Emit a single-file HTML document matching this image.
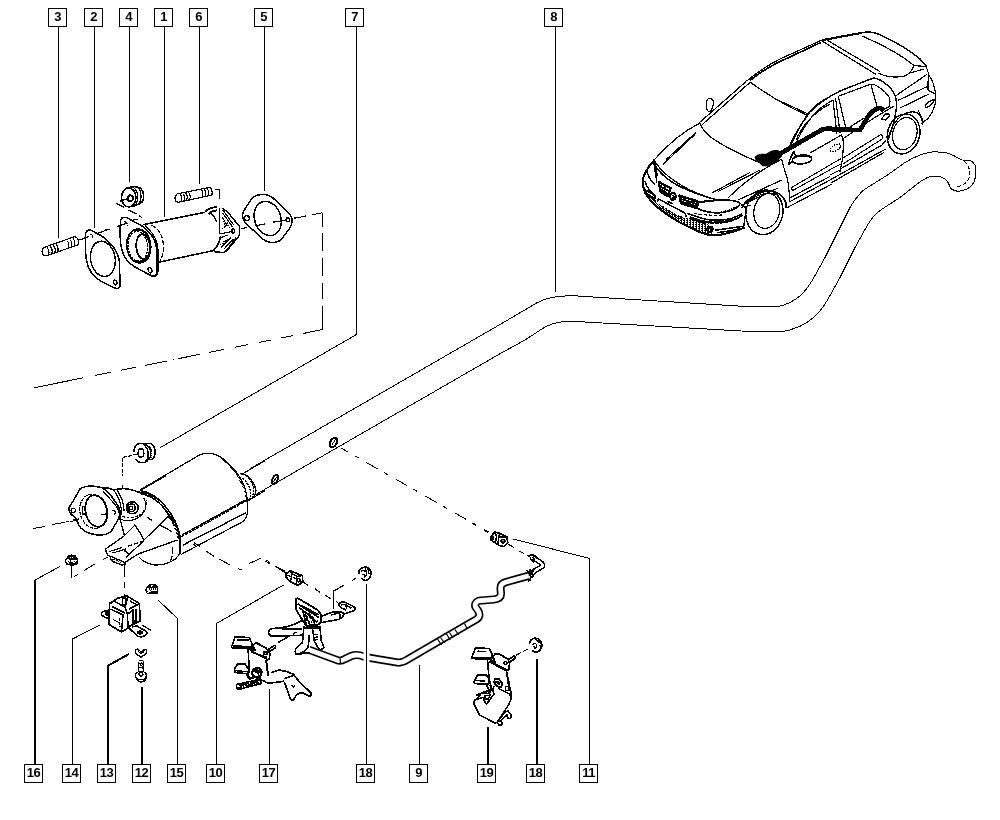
<!DOCTYPE html>
<html><head><meta charset="utf-8"><title>Exhaust diagram</title>
<style>
html,body{margin:0;padding:0;background:#fff;}
body{width:1000px;height:820px;overflow:hidden;position:relative;font-family:"Liberation Sans",sans-serif;}
svg{position:absolute;left:0;top:0;}
.lb{position:absolute;width:17px;height:17px;border:1px solid #000;background:#fff;font-weight:bold;font-size:13px;line-height:15px;text-align:center;color:#000;letter-spacing:-0.5px;will-change:transform;}
</style></head><body>
<svg width="1000" height="820" viewBox="0 0 1000 820" fill="none" stroke="#000" stroke-width="1" stroke-linecap="butt" stroke-linejoin="round" shape-rendering="crispEdges">
<!-- 01_defs.svg -->
<defs>
<pattern id="dots" width="16" height="16" patternUnits="userSpaceOnUse"><rect x="0" y="0" width="8" height="8" fill="#000" stroke="none"/><rect x="8" y="8" width="8" height="8" fill="#000" stroke="none"/></pattern>
<pattern id="dots2" width="24" height="16" patternUnits="userSpaceOnUse"><rect x="0" y="0" width="16" height="8" fill="#000" stroke="none"/><rect x="8" y="8" width="8" height="8" fill="#000" stroke="none"/></pattern>
</defs>

<!-- 05_dashbox.svg -->
<g id="dashbox">
<path d="M293.6 218.3L306.4 216 M314.4 214.4L322.4 212.8"/>
<path d="M322.5 212.8V329.6" stroke-dasharray="14 6 18 7 18 7 16 7 24 0"/>
<path d="M322.4 329.6L32.8 388" stroke-dasharray="20 10 12 10 13 11 13 11 16 9 22 4 1 7 22 9 16 10 16 12 30 0"/>
</g>

<!-- 10_pipe.svg -->
<g id="pipe">
<path d="M250 468.75L500 324.5L537.5 302.5C545 299 550 297.5 555 297C562 295.8 575 295.6 585 296.5L750 306.75L775 307C781 306.5 785 305 790 302.5C795 300 799 297 802.5 293.75C806 290 809 286 812.5 280L825 257.5L837.5 232.5L850 207.5C853 202 856 198 860 193.75C862 191 865 189 867.5 187.5L887.5 175L905 162.5C910 159.5 915 157 920 155C924 153.5 928 152.5 932.5 152C937 151.8 941 152 945 152.5C949 153.3 952 154.5 955 156.25C958 158 960 159 962.5 160.5"/>
<path d="M255 495L500 353.75L525 340L545 327C549 325 553 323.5 557.5 322.5C562 321.6 566 321.3 570 321.25C575 321.3 580 321.6 585 322L750 331.5L780 332C788 331 794 329 800 326.25C806 323.5 811 320 815 316.25C820 311.5 824 306 827.5 300L840 277.5L855 247.5L867.5 225C870 221 872 218 875 215C877 212.5 880 210.5 882.5 208.75L900 197.5L917.5 183.75C921 181 924 179 927.5 177.5C931 176.3 934 176 937.5 176.25C940 176.6 943 177.5 945 178.75C947 180 948 182 948.75 183.75"/>
<path d="M962.5 160.5L970 160.5C972.5 161.5 974 163 975 165C976 167.5 976.3 170 976 172.5C975.8 176 975 179.5 973.75 182.5C972 185.5 970 187.5 967.5 188.75C964.5 190.5 961 191.3 957.5 191.25C955 191 953 190 951 188.75C950 187.5 949.2 186 948.75 183.75"/>
<path stroke-dasharray="4 2" d="M964 161C968 165 970 169 970 174C969.5 178 968 181 965 183.5C962 185.5 959 186.5 956 187"/>
</g>

<!-- 11_pipeholes.svg -->
<g id="holes">
<ellipse cx="333.5" cy="442.5" rx="3.2" ry="5.2" transform="rotate(28 333.5 442.5)" stroke-width="2"/>
<path d="M331.5 445.5L335.5 439.5"/>
<ellipse cx="275" cy="479.5" rx="2.6" ry="4.6" transform="rotate(28 275 479.5)" stroke-width="2"/>
<path d="M273.5 482L276.5 477"/>
<path d="M341 448L488.4 532" stroke-dasharray="8 7.5 4.5 9 13 7.5 4.5 9 13 7.5 4.5 9 13 7.5 4.5 9 13 7.5 4.5 9 13 7.5 4.5 9"/>
<path d="M33 528.4L45 526.6 M52.5 524.5L64.5 522.4 M70.5 521.5L78 520"/>
</g>

<!-- 20_topleft_a.svg -->
<g id="tl_a" transform="translate(30,210) scale(0.125)" stroke-width="9.6">
<!-- stud 3 -->
<path d="M110 300L355 214C380 212 392 240 386 278L132 366C100 370 84 330 110 300Z"/>
<path d="M135 300C150 315 155 340 148 360 M160 292C175 305 180 330 174 350 M185 284C200 297 205 322 198 342 M208 276C222 290 227 315 222 334 M295 246C310 260 313 282 308 300 M318 238C333 250 337 275 331 292 M342 228C357 242 361 265 355 284"/>
<!-- gasket 2 -->
<path stroke-width="12" d="M445 190C450 170 465 158 480 158C495 160 505 168 520 180L560 200C600 225 640 260 670 300C695 335 712 380 716 420L720 600C720 618 712 628 695 628C685 628 675 622 660 615L560 565C530 545 505 525 490 500C470 470 458 440 452 400C446 370 444 340 444 300Z"/>
<ellipse cx="583" cy="391" rx="98" ry="142" transform="rotate(-10 583 391)" stroke-width="12"/>
<ellipse cx="682" cy="580" rx="13" ry="20" transform="rotate(-20 682 580)" stroke-width="10.8"/>
<path d="M478 196C492 194 500 204 497 222" stroke-dasharray="14 8"/>
<!-- centre line -->
<path d="M395 240L472 212 M540 186L640 152 M700 130L772 108"/>
</g>

<!-- 21_topleft_b.svg -->
<g id="tl_b" transform="translate(105,175) scale(0.125)" stroke-width="9.6">
<!-- bushing 4 -->
<ellipse cx="190" cy="180" rx="58" ry="76" stroke-width="12"/>
<path stroke-width="12" d="M165 108C200 95 250 92 275 100C300 115 312 150 308 190C302 215 290 228 270 232L215 255"/>
<path d="M235 108C265 130 272 200 240 245 M262 102C292 125 298 195 270 232"/>
<ellipse cx="203" cy="186" rx="20" ry="24" stroke-width="14.4"/>
<path d="M185 188L120 210 M90 228L150 258 M190 280L250 312 M270 325L295 340" />
<!-- flange left of part 1 -->
<path stroke-width="12" d="M125 365C128 348 140 338 160 338C175 340 185 345 200 355L300 410C340 440 375 480 395 520C408 550 412 575 413 600L415 770C415 795 405 810 390 810C378 810 368 806 355 798L230 730C195 705 170 680 155 650C140 620 130 590 126 555C122 520 120 480 120 440Z"/>
<path d="M320 405C360 440 395 485 412 530C420 555 423 580 424 600L425 770C424 790 418 802 408 808"/>
<ellipse cx="270" cy="568" rx="96" ry="136" transform="rotate(-6 270 568)" stroke-width="12"/>
<ellipse cx="262" cy="570" rx="78" ry="118" transform="rotate(-6 262 570)" stroke-dasharray="18 8"/>
<ellipse cx="305" cy="572" rx="55" ry="100" transform="rotate(-4 305 572)" stroke-width="14.4"/>
<path stroke-width="16.8" d="M232 445C270 430 310 440 340 480 M250 690C290 700 330 690 352 650"/>
<ellipse cx="360" cy="762" rx="14" ry="22" transform="rotate(-20 360 762)" stroke-width="10.8"/>
<path d="M150 375C172 372 182 385 178 410" stroke-dasharray="14 8"/>
<path d="M0 440L40 434 M95 412L150 395 M200 368L260 352"/>
<!-- tube -->
<path stroke-width="12" d="M305 398L800 298 M420 700L880 602"/>
<path stroke-dasharray="40 12" d="M370 402C420 420 455 470 465 540C472 600 462 650 440 690"/>
<!-- stud 6 -->
<path d="M575 152L830 100C852 100 862 125 856 160L590 218C562 222 548 180 575 152Z"/>
<path d="M600 152C612 168 615 192 608 212 M622 148C634 162 638 188 631 206 M645 143C657 158 660 182 654 202 M668 138C680 152 684 178 677 196 M770 116C782 130 785 155 779 174 M792 112C804 126 808 150 802 169 M815 106C827 120 831 146 825 164"/>
<path d="M880 118L915 118V190 M915 262V470" stroke-dasharray="70 70 400"/>
</g>

<!-- 22_topleft_c.svg -->
<g id="tl_c" transform="translate(190,185) scale(0.125)" stroke-width="9.6">
<!-- gasket 5 -->
<path stroke-width="12" d="M580 75C610 75 640 85 665 105L790 225C810 245 820 270 815 300C812 320 805 335 795 350L735 430C715 452 690 460 660 460C630 460 605 450 580 430L450 310C430 290 420 265 420 240C422 225 428 210 438 195L490 115C510 88 545 75 580 75Z"/>
<ellipse cx="622" cy="268" rx="105" ry="140" transform="rotate(-18 622 268)" stroke-width="12"/>
<circle cx="455" cy="265" r="20" stroke-width="10.8"/>
<circle cx="783" cy="278" r="15" stroke-width="10.8"/>
<path d="M405 350L460 340 M520 326L600 312 M660 298L760 283 M830 266L870 258 M900 252L930 247 M975 237L1000 237"/>
<!-- right flange of part 1 -->
<path stroke-width="12" d="M255 185L300 215L395 330L398 400L300 520L270 540L205 536L190 520"/>
<path stroke-width="14.4" d="M120 215C145 190 180 178 215 176 M150 232C170 212 190 204 215 202 M190 520C215 500 235 460 245 410"/>
<path d="M160 225C185 240 205 265 212 295 M262 200L350 320 M262 225L340 335 M260 260L300 330 M240 390L340 372 M250 420L300 400 M330 420L250 500 M350 430L270 515 M370 420L290 525"/>
<path stroke-dasharray="10 8" d="M270 290L290 340 M300 300L320 350 M255 350L285 330 M265 470L330 420 M280 500L360 430 M240 480L300 430"/>
<ellipse cx="345" cy="370" rx="10" ry="18" stroke-width="10.8"/>
<path d="M235 35V110 M235 180V390" />
<path d="M200 35L235 35"/>
</g>

<!-- 30_car_front.svg -->
<g id="car_front" transform="translate(630,80) scale(0.2)" stroke-width="6">
<!-- a pillar / roof left -->
<path d="M345 215L580 8 M360 224L600 12"/>
<!-- windshield -->
<path d="M348 215C360 245 380 268 410 290C460 325 540 368 640 410 M600 10C690 75 790 135 885 175C860 215 830 270 800 335"/>
<path d="M885 175C920 130 960 100 1000 85 M830 300C860 230 920 160 1000 120"/>
<!-- left mirror -->
<path d="M385 100C392 90 408 90 415 102C420 118 416 138 400 160C388 160 380 145 382 125Z"/>
<!-- hood -->
<path d="M345 218C280 250 200 310 120 400C125 440 128 470 135 500 M120 400C150 450 200 500 300 550C350 572 400 590 440 600"/>
<path d="M165 422L325 272 M180 398L330 262"/>
<path d="M640 410C660 410 700 405 740 400 M410 565L600 462 M440 558L650 450 M490 590C560 520 650 450 760 395"/>
<path d="M540 600L760 500 M560 625L740 540"/>
<!-- front wheel -->
<path stroke-width="8.4" d="M560 640C575 605 620 570 680 555C730 550 765 575 778 610L782 640"/>
<path d="M600 600C640 570 690 560 730 572"/>
<ellipse cx="672" cy="662" rx="92" ry="112" transform="rotate(12 672 662)" stroke-width="7.2"/>
<ellipse cx="684" cy="655" rx="64" ry="88" transform="rotate(12 684 655)"/>
<!-- door/fender -->
<path d="M760 400C768 440 780 470 788 500C795 540 797 580 800 612"/>
<path d="M782 640L1010 520 M800 608L1000 500 M795 592L1000 482"/>
<path stroke-width="5.4" d="M812 535L1000 425 M815 552L1000 449 M812 535C806 540 808 550 815 552"/>

<!-- right mirror -->
<ellipse cx="860" cy="396" rx="50" ry="22" transform="rotate(-5 860 396)"/>
<path d="M790 425L812 365L830 375 M790 425L815 405"/>
<!-- harness -->
<path fill="#000" stroke-width="4.8" d="M625 385C640 370 660 370 680 372C695 360 715 350 735 352C750 355 760 365 758 380C750 395 735 405 720 415C700 428 680 432 660 428C650 415 640 405 630 400Z"/>
<path stroke-width="22.8" stroke-linecap="round" d="M745 372L960 248L1000 240"/>
</g>

<!-- 31_car_rear.svg -->
<g id="car_rear" transform="translate(780,20) scale(0.2)" stroke-width="6">
<!-- roof -->
<path d="M-168 306C-100 250 -50 220 0 195L210 100"/>
<path stroke-width="8.4" d="M-150 302C-100 262 -50 232 0 208L205 112"/>
<path stroke-width="10.8" d="M215 100L400 66"/>
<path stroke-width="7.2" d="M210 100L430 60C450 58 470 62 490 70C560 100 640 145 700 195L730 230"/>
<path d="M410 80C480 110 560 150 620 190C645 208 660 220 670 228C662 250 650 265 630 278C600 288 560 286 530 280C515 276 500 270 490 265"/>
<path d="M210 105L480 272 M235 100L500 258"/>
<path d="M670 228L728 232 M650 265L720 245"/>
<!-- trunk / rear -->
<path d="M730 230C735 245 740 260 745 275C760 300 772 330 776 355C782 385 778 415 770 440C762 462 752 478 740 492L705 520"/>
<path d="M745 275C740 300 738 330 740 350L776 370"/>
<path d="M580 378L735 272 M590 402L742 330 M600 440L745 370"/>
<path d="M725 430C735 415 755 400 772 398C768 412 750 430 730 440Z"/>
<path d="M690 450L715 500"/>
<!-- side windows -->
<path stroke-width="7.2" d="M40 650C55 610 90 540 150 460C190 420 240 385 300 355L440 300C452 296 462 292 472 290C500 295 530 315 560 350C580 375 586 400 582 440C575 490 560 550 540 600"/>
<path d="M70 640C85 600 120 530 175 465C200 440 230 420 262 402 M290 382L450 322C462 320 472 322 482 328C510 345 535 368 545 385C552 400 550 420 545 435L520 445"/>
<path d="M265 400L285 572 M278 392L300 565 M292 384L330 545"/>
<path d="M455 325L485 432"/>
<!-- windshield R -->
<path d="M0 405L140 470"/>
<!-- door & belt lines -->
<path d="M150 665L307 575 M317 592L410 530L470 490L570 430 M350 535L420 490"/>
<path d="M307 572C315 590 318 610 317 630L312 700L300 760"/>
<path stroke-dasharray="8 5" d="M250 645L270 625L300 620L305 635L280 655L255 657Z"/>
<path d="M507 497L525 470L545 470L547 482L527 500Z"/>
<path stroke-width="5.4" d="M315 690L505 572C512 578 514 588 510 595L315 720"/>
<path stroke-width="5.4" d="M250 724L307 692 M250 748L305 720"/>
<path d="M302 745L510 625L530 600 M250 775L300 750 M250 800L510 655L530 645 M255 815L520 662"/>
<!-- rear wheel -->
<path d="M540 600C545 560 570 500 620 470C650 455 680 458 700 470"/>
<ellipse cx="618" cy="570" rx="80" ry="101" transform="rotate(16 618 570)" stroke-width="7.2"/>
<ellipse cx="624" cy="568" rx="60" ry="82" transform="rotate(16 624 568)"/>
<path d="M690 465C705 480 712 500 712 525"/>
<!-- mirror right -->
<ellipse cx="110" cy="700" rx="50" ry="20" transform="rotate(-5 110 700)"/>
<path d="M40 722L70 655L82 690 M40 722L65 702"/>
<!-- harness -->
<path stroke-width="22.8" stroke-linejoin="round" d="M0 668L215 545L400 550L440 482C460 455 480 442 500 440L520 452"/>
</g>

<!-- 32_car_nose.svg -->
<g id="car_nose" transform="translate(635,140) scale(0.125)" stroke-width="9.6">
<!-- outer nose outline (thick) -->
<path stroke-width="16.8" d="M155 160C130 185 110 210 95 240C75 270 62 300 62 330C62 360 68 390 80 420C95 450 120 480 160 520C220 575 290 620 360 660C420 690 480 720 540 745C580 760 620 765 660 762C720 755 800 730 880 700"/>
<path stroke-width="12" d="M95 240C100 280 120 320 160 360 M80 330C90 370 110 400 150 430 M70 380C85 420 120 460 170 490"/>
<!-- hood front edge -->
<path stroke-width="12" d="M155 160C160 200 165 240 180 290 M165 210C210 280 300 350 420 400C500 435 580 460 650 478"/>
<path d="M150 185L175 340"/>
<!-- grilles -->
<path stroke-width="19.2" d="M190 335L285 385L262 450L205 415Z M355 445L498 490L490 545L368 505Z"/>
<path stroke-width="14.4" d="M215 350L200 400 M245 365L228 425 M200 370L275 410 M205 395L265 432 M395 460L385 510 M430 470L420 522 M465 480L455 535 M362 470L495 512 M365 490L492 530"/>
<path stroke-width="14.4" d="M305 420C320 425 330 440 328 460C322 475 310 482 295 478C282 470 278 455 282 440C288 428 295 422 305 420Z"/>
<path stroke-width="12" d="M300 440L315 455L300 468"/>
<!-- bumper band -->
<path stroke-width="12" d="M185 470L400 585L412 620 M185 470L180 500 M260 490L300 510"/>
<path stroke-width="14.4" d="M90 400L160 445L158 470L95 430"/>
<path fill="url(#dots)" stroke="none" d="M110 450C170 505 260 565 400 625L405 655C300 610 200 550 130 490Z"/>
<path fill="url(#dots2)" stroke="none" d="M215 520C280 570 340 605 405 630L440 615L565 662L630 712L608 760C540 740 470 712 405 680C330 640 260 595 200 550Z"/>
<path stroke-width="21.6" d="M445 625L560 665"/>
<circle cx="600" cy="715" r="22" stroke-width="14.4"/>
<path stroke-width="12" d="M590 705C600 700 612 708 610 722"/>
<!-- headlight -->
<path stroke-width="13.2" d="M505 498C560 488 620 482 700 480C760 480 810 486 835 500C845 512 835 528 810 545C770 565 720 580 660 584C600 582 550 570 500 548"/>
<path stroke-width="12" d="M520 498L640 485 M500 548L505 498"/>
<path stroke-width="14.4" stroke-dasharray="10 6" d="M690 578C740 570 790 552 825 525"/>
<!-- under-headlight lines -->
<path stroke-width="12" d="M420 588C480 610 540 630 600 640C660 645 720 640 770 628C810 615 840 600 855 590"/>
<path stroke-width="14.4" d="M440 618C500 640 560 655 620 660C680 660 740 652 790 638C820 628 845 615 855 600"/>
<path stroke-dasharray="30 10" d="M470 585C540 600 620 605 700 600 M560 660C640 675 720 665 800 640"/>
<path stroke-width="12" d="M640 722L870 690 M660 740C720 735 800 720 880 700"/>
<path stroke-width="12" d="M850 520L880 535L925 520 M880 535L890 560L880 620L870 690"/>
</g>

<!-- 40_cat_a.svg -->
<g id="cat_a" transform="translate(60,475) scale(0.125)" stroke-width="9.6">
<!-- inlet flange -->
<path stroke-width="12" d="M72 262L110 200L160 112C185 95 220 88 255 88C285 90 310 95 335 102C365 120 390 140 405 160L460 240C475 265 482 285 480 305C478 325 470 345 460 365L410 450C390 470 350 482 300 480C260 476 225 465 195 448C172 432 158 415 150 398L130 352L88 312C75 298 68 282 72 262Z"/>
<ellipse cx="268" cy="290" rx="108" ry="138" transform="rotate(-14 268 290)" stroke-dasharray="30 8"/>
<ellipse cx="290" cy="288" rx="86" ry="128" transform="rotate(-12 290 288)" stroke-width="14.4"/>
<circle cx="106" cy="283" r="18"/>
<path d="M415 285C430 275 445 285 442 305C440 312 435 316 428 316"/>
<path d="M180 255H205V312H180Z M330 316L372 312"/>
<path d="M345 130L440 235C460 262 470 285 472 305 M50 372L75 370 M105 358L150 352"/>
<!-- neck -->
<path stroke-width="12" d="M335 102C370 100 400 105 430 118C460 112 500 106 540 112C580 118 610 128 630 138"/>
<path d="M430 120C465 170 490 230 492 290C490 315 485 335 478 350 M455 118C490 170 512 230 512 290"/>
<path d="M478 350C500 362 540 368 580 360C620 350 660 320 680 280C690 250 688 215 670 185"/>
<!-- sensor boss -->
<circle cx="578" cy="262" r="48" stroke-width="12"/>
<circle cx="572" cy="262" r="30" stroke-width="12"/>
<circle cx="568" cy="262" r="14"/>
<path d="M610 225C625 245 625 280 610 300" />
<path stroke-dasharray="24 10" d="M500 330C540 350 600 345 650 310C685 280 700 240 690 200"/>
<!-- cone -->
<path stroke-width="9.6" d="M630 135C700 140 770 175 830 235C890 300 940 390 960 480L962 620"/>
<path d="M640 150C700 158 760 190 815 245C850 280 875 315 890 345"/>
<path stroke-width="16.8" stroke-dasharray="6 5" d="M880 335C915 390 940 440 950 490"/>
<path stroke-width="14.4" d="M955 500L958 625"/>
<!-- shield bracket -->
<path stroke-width="10.8" d="M480 350L515 482 M510 490L600 400 M592 392C620 430 650 470 672 522 M365 592L510 490 M365 592C368 610 372 625 380 640L520 700L625 632L940 520 M670 522L860 335L890 345 M672 522L530 660 M520 700L519 716"/>
<path d="M700 340L735 362 M800 400L890 450 M395 612L500 580 M420 625L530 590" />
<path d="M540 570L670 528" stroke-dasharray="40 12"/>
<path stroke-width="14.4" d="M512 600L555 635"/>
<path stroke-width="12" d="M405 655C400 670 410 685 430 695L490 718C505 722 515 715 518 702"/>
<path stroke-dasharray="10 6" d="M420 672L495 702"/>
<path d="M630 655C660 690 700 712 760 720C820 722 880 705 925 670C945 650 955 635 960 620"/>
<path stroke-dasharray="50 14" d="M900 580C905 620 900 660 880 695"/>

<path d="M500 0V10 M500 85V108"/>
<path d="M640 125L850 5"/>
</g>

<!-- 41_cat_b.svg -->
<g id="cat_b" transform="translate(140,445) scale(0.125)" stroke-width="9.6">
<path stroke-width="9.6" d="M0 360L450 95C480 75 510 66 545 65C580 66 610 78 640 95C700 135 760 195 800 260C830 310 850 370 856 420L860 540C858 565 850 585 835 600C825 612 812 620 800 625L470 800L330 875"/>
<path stroke-width="14.4" d="M640 95C690 130 740 180 790 250"/>
<path stroke-width="12" stroke-dasharray="6 5" d="M780 250C815 300 840 360 850 420"/>
<path stroke-width="12" d="M330 735L850 447" stroke-dasharray="28 6"/>
<path d="M332 722L845 438"/>
<path stroke-width="10.8" d="M345 800L852 540"/>
<!-- left arc -->
<path stroke-width="12" d="M0 365C60 372 110 400 160 445C220 500 270 580 300 670C312 710 320 760 324 875"/>
<path d="M0 385C55 392 100 415 145 455C180 490 215 535 240 580"/>
<path stroke-width="14.4" stroke-dasharray="6 5" d="M235 575C265 620 290 680 305 740"/>
<!-- rear cone -->
<path stroke-width="12" d="M800 230C830 228 855 240 878 265C905 295 922 330 926 360C928 390 915 415 890 430L862 445"/>
<path stroke-dasharray="18 8" d="M820 265C850 290 875 330 885 370C888 395 885 415 875 432 M850 245C880 270 900 310 908 350C910 380 905 405 895 420"/>
<!-- pipe start -->
<path d="M828 226L1000 125 M900 425L1000 365"/>
<!-- cone/bracket bits visible here -->
<path d="M55 575L95 605 M160 640L255 692 M420 790L450 810"/>
</g>

<!-- 42_bush7.svg -->
<g id="bush7" transform="translate(100,425) scale(0.1)" stroke-width="12">
<path stroke-width="15.6" d="M340 270C338 235 355 200 385 186L510 185C535 200 550 235 552 270C552 305 540 332 515 348 M355 338C365 358 385 372 410 376L448 376C470 365 485 345 490 320"/>
<path d="M430 190C465 215 482 250 482 290C480 325 468 355 448 376 M455 188C492 215 508 250 508 290C506 320 498 340 485 352" stroke-width="13.2"/>
<path stroke-dasharray="14 8" d="M495 215C512 240 520 270 518 300C516 320 510 335 500 345"/>
<ellipse cx="410" cy="280" rx="28" ry="42" stroke-width="15.6"/>
<path d="M375 292L222 325V505 M225 600V635" stroke-dasharray="40 14"/>
</g>

<!-- 50_mount.svg -->
<g id="mount14" transform="translate(85,585) scale(0.1)" stroke-width="12">
<path stroke-width="16.8" d="M245 185L330 130L420 110L545 185L550 360L440 415L430 432L365 470L240 395Z"/>
<path stroke-width="15.6" d="M245 250L175 268C162 280 162 298 175 308L215 330L245 322 M440 430L520 508C545 522 575 522 600 505C625 490 628 472 605 460L520 410L470 420"/>
<ellipse cx="218" cy="285" rx="14" ry="18" fill="#000"/>
<ellipse cx="552" cy="475" rx="26" ry="15" fill="#000"/>
<path stroke-width="15.6" d="M290 160L400 222L425 290L430 430 M245 190L290 160 M270 215L400 280 M255 240L380 300L365 460 M425 290L480 250L490 380 M440 240L545 190 M450 160L530 205 M400 222L430 120 M480 250L480 395 M510 240L510 370"/>
<path stroke-width="14.4" d="M375 130H408V200H375Z" fill="#fff"/>
<path d="M395 110V85" />
<path d="M280 345L340 375 M345 330L350 420" stroke-dasharray="30 10"/>
<path d="M500 400L545 422 M570 400L660 455"/>
</g>

<g id="w13" stroke-width="1.2">
<path d="M135.2 651.5C135 649.5 136.5 648.5 138 649.5C138.5 651.5 139.5 653 141 654C142.5 653 144 651.5 144.5 649.5C146 648.5 146.8 650 146.5 652C146 654.5 144 656 141 656.3C138 656 136 654.5 135.2 651.5Z"/>
<path d="M137.5 648.5C139 650 140.5 651 141.2 653 M141.2 653C142 651 143 650 144.5 649 M141 656V658"/>
</g>
<g id="bolt12" stroke-width="1.2">
<path d="M138.7 661.5C139 660.3 143.3 660.3 143.7 661.5V672 M138.7 661.5V672"/>
<path d="M139.5 664C141 662.5 142.5 662.8 143 664.5 M139.8 668C141 667 142.5 667 143 668.5 M139.8 664.8L143 666.5"/>
<ellipse cx="141" cy="675.5" rx="5.4" ry="4.2" stroke-width="1.4"/>
<circle cx="141" cy="674.2" r="2"/>
<path d="M136 677.5C137 680.5 139.5 681.8 141 681.8C143 681.8 145.5 680.5 146.3 677.5" stroke-width="1.6"/>
</g>

<!-- 51_nuts.svg -->
<g id="nuts" stroke="none" shape-rendering="crispEdges">
<path fill="#000" d="M68 555L71 555L71 554L72 554L72 555L75 555L76 556L76 557L77 557L77 558L78 559L78 563L77 564L76 565L74 565L73 566L70 566L69 565L66 565L66 564L65 563L65 559L66 558L67 557L67 556Z"/>
<path fill="#fff" d="M66 560L68 559L69 559L70 561L69 563L68 564L67 563L66 562Z M71 560L77 560L77 561L75 562L75 563L73 563L72 562L71 562Z M70 557h1v1h-1Z M72 557h1v1h-1Z"/>
<path fill="#000" d="M68 561h1v1h-1Z M74 561h1v1h-1Z"/>
<path fill="#000" d="M149 584L156 584L157 586L158 587L158 593L157 594L147 594L146 593L146 591L145 591L145 589L146 589L146 587L147 586L148 585Z"/>
<path fill="#fff" d="M147 588h2v3h-2Z M150 588h1v2h-1Z M152 588h1v2h-1Z M154 588h1v2h-1Z M156 588h1v3h-1Z M149 590h7v1h-7Z M148 591h3v1h-3Z M147 592h2v1h-2Z M151 585h2v1h-1v1h-1Z"/>
<path fill="#000" d="M150 590h1v1h-1Z"/>
<path stroke="#000" stroke-width="1" d="M71.5 566V577.5"/>
</g>

<!-- 60_sensor10.svg -->
<g id="sensor10" transform="translate(265,555) scale(0.125)" stroke-width="9.6">
<path stroke-width="13.2" d="M170 150L200 125L300 165L302 212L265 245L200 212L170 178Z"/>
<path stroke-width="10.8" d="M200 125L215 150L205 210 M215 150L255 170L250 235 M255 170L300 165 M225 178L245 190 M262 190C275 185 285 195 280 210C272 220 262 215 262 200Z M180 160L205 175"/>
<path d="M5 50L40 70 M80 90L165 142 M305 215L345 245 M400 270L440 300 M480 320L525 350 M570 372L582 380"/>
<!-- clip 18 -->
<path stroke-width="13.2" d="M750 150C745 125 765 100 800 96C830 98 848 120 848 150C845 175 830 195 805 205C790 205 780 195 775 185"/>
<path stroke-width="10.8" d="M770 130C785 120 805 125 812 140C815 160 805 175 790 178 M800 110L815 135 M825 115L832 150 M780 150L800 165"/>
<path d="M545 290L645 235 M695 205L730 185 M545 290V435" stroke-dasharray="100 40 40 0"/>
<path d="M545 300V435"/>
</g>
<g id="dash10">
<path d="M193.75 542.5L200 546.25 M206.25 551.25L213.75 556.25 M218.75 558.75L230 565 M237.5 568.75L242.5 569.5 M248.75 563.75L261.25 558 M266.25 560L270 562.5 M275 566.25L285 571.25"/>
<path d="M74 576.5L78 574.5 M84 570.5L95 564 M103 559.5L108 557 M124.5 565V577 M124.5 582V588 M124.5 593.5V595.5"/>
</g>

<!-- 60a_pipe9.svg -->
<g id="pipe9" transform="translate(330,545) scale(0.25)" stroke-linejoin="round" stroke-linecap="butt" shape-rendering="auto">
<path id="p9c" stroke="#000" stroke-width="32.4" d="M-84 419L30 461C40 465 48 463 60 456L85 444C100 438 115 438 135 446L162 452L270 470C285 472 295 468 310 458L435 385L550 318L585 298C598 290 602 278 592 262L582 248C578 238 582 228 595 223L655 218C675 216 684 208 684 195L682 172C682 160 690 152 705 148L795 123"/>
<path stroke="#fff" stroke-width="19.2" d="M-92 416L30 461C40 465 48 463 60 456L85 444C100 438 115 438 135 446L162 452L270 470C285 472 295 468 310 458L435 385L550 318L585 298C598 290 602 278 592 262L582 248C578 238 582 228 595 223L655 218C675 216 684 208 684 195L682 172C682 160 690 152 705 148L795 123"/>
<path id="gap18" stroke="#fff" stroke-width="24" d="M146 420V480"/>
<g stroke="#000" stroke-width="4.8">
<path d="M40 451L42 476 M430 376L446 400 M442 370L458 392 M466 356L481 380 M478 350L492 372 M500 338L514 360 M538 314L548 334"/>
</g>
</g>
<g id="p9r" transform="translate(470,520) scale(0.1)" stroke-width="14.4">
<!-- right end fitting and thin tube -->
<path stroke="#000" stroke-width="52.8" d="M612 552L640 512L718 468C730 460 730 445 718 435L650 388L605 368"/>
<path stroke="#fff" stroke-width="24" d="M612 552L640 512L718 468C730 460 730 445 718 435L650 388L612 372"/>
<path stroke-width="16.8" d="M585 370C590 350 620 345 650 358C665 366 670 380 665 390"/>
<path stroke-width="14.4" d="M625 375C640 380 650 395 645 410 M600 385L640 420"/>
<path stroke-width="16.8" d="M570 500L585 520L600 500L620 525L640 505 M585 520L610 570L600 600L580 610 M610 525L630 560L615 585"/>
<path stroke-width="12" stroke-dasharray="8 6" d="M595 520L620 575"/>
<!-- sensor 11 -->
<path stroke-width="16.8" d="M205 178L245 120L300 135L370 170L378 225L340 265L290 255L210 200Z"/>
<path stroke-width="14.4" d="M245 120L265 160L255 235 M300 135L285 170L280 250 M285 170L370 170 M225 150L240 195 M215 165L230 205"/>
<circle cx="330" cy="212" r="20" stroke-width="13.2"/>
<circle cx="330" cy="212" r="6" stroke-width="9.6"/>
<path stroke-width="12" d="M20 35L65 55 M140 100L185 125 M380 240L440 275 M490 310L540 335 M570 350L590 360"/>
</g>

<!-- 61_pipe9_left.svg -->
<g id="p9l" transform="translate(265,555) scale(0.125)" stroke-width="10.8">
<!-- clip/bracket dark -->
<path stroke-width="14.4" d="M245 350L260 345L330 385L420 440L445 470L452 535L420 560L330 565L300 520L280 490L245 430Z"/>
<path stroke-width="13.2" d="M260 390L430 500 M270 420L300 440L330 555 M300 440L420 540 M320 470L360 560 M350 460L400 555 M380 490L395 540 M285 400L430 480"/>
<path stroke-width="12" stroke-dasharray="8 6" d="M340 490L420 530 M330 520L400 548"/>
<!-- small tube to right with loop -->
<path stroke-width="13.2" d="M450 490L545 455L590 455C610 455 625 462 640 470L715 445C728 435 722 420 705 410L655 385C630 372 600 375 592 392C590 408 600 418 620 428L650 440 M455 540L590 515C615 505 628 490 635 470"/>
<path stroke-width="12" d="M610 400C625 392 650 398 670 412L690 425 M640 400C650 408 655 420 650 432 M530 480L600 462 M585 458C600 470 605 490 598 512"/>
<!-- left arm -->
<path stroke-width="13.2" d="M305 520C260 545 210 565 170 575L50 590C30 595 25 615 32 632C40 648 55 652 75 650L300 642"/>
<path stroke-width="15.6" d="M110 588L300 590"/>
<!-- lower legs -->
<path stroke-width="13.2" d="M312 565L300 700L250 745C238 760 240 785 255 792C275 795 295 785 320 765L345 735L355 640 M380 590L395 690L430 750C445 760 462 755 470 738C468 720 455 700 448 680L440 565"/>
<path d="M330 570H440 M320 585H440 M385 640L420 635 M390 660L425 655 M395 680L428 676"/>
<path stroke-width="13.2" d="M240 796L290 790L360 780"/>
<path d="M240 625L100 700"  stroke-dasharray="20 30 80 0"/>
</g>

<!-- 62_bracket17.svg -->
<g id="b17" transform="translate(225,620) scale(0.125)" stroke-width="10.8">
<path stroke-width="13.2" d="M80 135L195 140L220 200L200 225L58 222C48 215 50 205 58 200Z"/>
<path d="M95 158L190 162 M62 208L205 212" stroke-width="12"/>
<path stroke-width="13.2" d="M200 240L245 180L330 225L360 272L355 310L330 325L345 450 M185 232L195 420 M200 240L345 320 M210 255L335 300"/>
<path stroke-width="15.6" d="M245 180L330 225 M330 330L345 450"/>
<path stroke-width="12" d="M228 215L240 240L215 240Z M310 255H335V275H310Z"/>
<path stroke-width="13.2" d="M340 240L392 205C405 200 410 215 400 225L350 255"/>
<path stroke-width="13.2" d="M75 395L100 352L160 350L192 400L188 432L82 420Z"/>
<path d="M85 405L185 415" stroke-width="12"/>
<path stroke-width="19.2" d="M215 420C225 390 255 375 280 390C300 405 295 440 270 455C245 465 220 450 215 420Z M240 405L272 432 M250 395L285 420 M175 440L200 470L235 455 M225 450L285 470"/>
<path stroke-width="13.2" d="M95 515L265 478L290 480L285 510L110 555C92 550 88 530 95 515Z"/>
<path stroke-width="10.8" stroke-dasharray="12 6" d="M110 525L270 490 M105 540L275 500"/>
<path stroke-width="12" d="M118 512L130 552 M140 508L152 547 M162 503L174 542 M184 498L196 537 M206 493L218 531 M228 488L240 526 M250 483L262 520"/>
<path stroke-width="13.2" d="M300 480L340 505L400 500L470 490 M370 420L430 400C470 405 510 415 545 432L600 500L690 585C692 600 685 610 672 608L625 585C600 582 580 590 568 605L548 640C538 645 528 640 522 628L475 495 M470 470L545 445"/>
<path stroke-width="12" d="M535 520L548 535L560 522"/>
<path d="M425 180L500 140 M545 110L570 95"/>
</g>

<!-- 64_bracket19.svg -->
<g id="b19" transform="translate(465,630) scale(0.1)" stroke-width="14.4">
<path stroke-width="16.8" d="M105 180L245 185L275 250L250 290L72 286C62 280 62 270 72 265Z"/>
<path d="M125 212L210 214 M75 276L255 282"/>
<path stroke-width="16.8" d="M250 320L290 255L305 236L340 240L430 290L445 330L440 395L415 410Z"/>
<path stroke-width="19.2" d="M305 236L340 240L430 290"/>
<path stroke-width="14.4" d="M260 318L420 398 M290 290L302 322L275 322Z"/>
<circle cx="405" cy="330" r="15" stroke-width="14.4"/>
<path stroke-width="16.8" d="M435 295L488 260C502 258 508 270 500 285L445 322"/>
<path stroke-width="16.8" d="M225 300L240 480L258 560 M415 410L428 500L445 560L458 620L465 680"/>
<path stroke-width="24" d="M428 470L440 560 M455 640L460 690"/>
<path stroke-width="16.8" d="M405 565H440V605H405Z"/>
<path stroke-width="16.8" d="M90 520L125 452L215 450L240 490L236 540L100 536Z"/>
<path d="M115 506L200 510"/>
<path stroke-width="16.8" d="M215 545L240 600L265 590L250 545"/>
<path stroke-width="18" d="M300 490L340 490L375 540L360 572L320 562L290 525Z M310 520L345 545L335 520Z"/>
<path stroke-width="14.4" d="M330 580L445 642"/>
<path stroke-width="16.8" d="M290 560L280 600L290 640L215 742L190 700L200 660"/>
<path stroke-width="21.6" d="M115 655L200 618L280 600"/>
<path stroke-width="14.4" d="M195 640L260 625 M200 660L250 650L235 690L205 690Z M150 650L120 690"/>
<path stroke-width="15.6" d="M190 672L95 702L85 732L145 850L300 930L320 926L440 742L460 690"/>
<path stroke-width="16.8" d="M320 926L345 955L375 946L365 915L338 910 M340 895L400 822L430 810L465 855L456 885L430 882L420 850L362 902"/>
<!-- clip 18b -->
<path stroke-width="16.8" d="M645 140C645 110 668 85 700 80C735 82 765 110 770 150C768 185 745 215 712 225C695 222 680 212 670 205"/>
<path stroke-width="14.4" d="M680 150C685 135 705 130 715 145C722 165 710 185 690 185 M685 160L700 172 M710 90L745 130 M730 88L760 125 M745 100L765 140 M750 150L760 190"/>
<path d="M510 255L560 225 M580 215L630 190" stroke-width="12"/>
</g>

<!-- 95_leaders.svg -->
<g id="leaders">
<path d="M58.5 27V238 M94.5 27V228 M129.5 27V182 M164.5 27V217 M199.5 27V184 M264.5 27V191 M356.5 27V334.5L160.5 447.5 M555.5 27V292"/>
<path d="M72.5 764V639L100 625 M177.5 764V618.5L158 600 M216.5 764V623.5L283.5 585 M269.5 764V689 M419.5 764V664.5 M366.5 764V583.5 M589.5 764V558.5L513.5 539"/>
<path stroke-width="2" d="M35 764V580 M107.5 764V666 M142 764V686.5 M488 764V726.5 M537 764V658.5"/>
<path d="M35 580L60 566.5"/>
<path stroke-width="2" d="M107.5 666L129 654"/>
</g>
</svg>
<div class="lb" style="left:48px;top:8px">3</div>
<div class="lb" style="left:84px;top:8px">2</div>
<div class="lb" style="left:119px;top:8px">4</div>
<div class="lb" style="left:154px;top:8px">1</div>
<div class="lb" style="left:189px;top:8px">6</div>
<div class="lb" style="left:254px;top:8px">5</div>
<div class="lb" style="left:345px;top:8px">7</div>
<div class="lb" style="left:544px;top:8px">8</div>
<div class="lb" style="left:24px;top:764px">16</div>
<div class="lb" style="left:62px;top:764px">14</div>
<div class="lb" style="left:97px;top:764px">13</div>
<div class="lb" style="left:132px;top:764px">12</div>
<div class="lb" style="left:167px;top:764px">15</div>
<div class="lb" style="left:206px;top:764px">10</div>
<div class="lb" style="left:259px;top:764px">17</div>
<div class="lb" style="left:356px;top:764px">18</div>
<div class="lb" style="left:409px;top:764px">9</div>
<div class="lb" style="left:477px;top:764px">19</div>
<div class="lb" style="left:526px;top:764px">18</div>
<div class="lb" style="left:579px;top:764px">11</div>
</body></html>
